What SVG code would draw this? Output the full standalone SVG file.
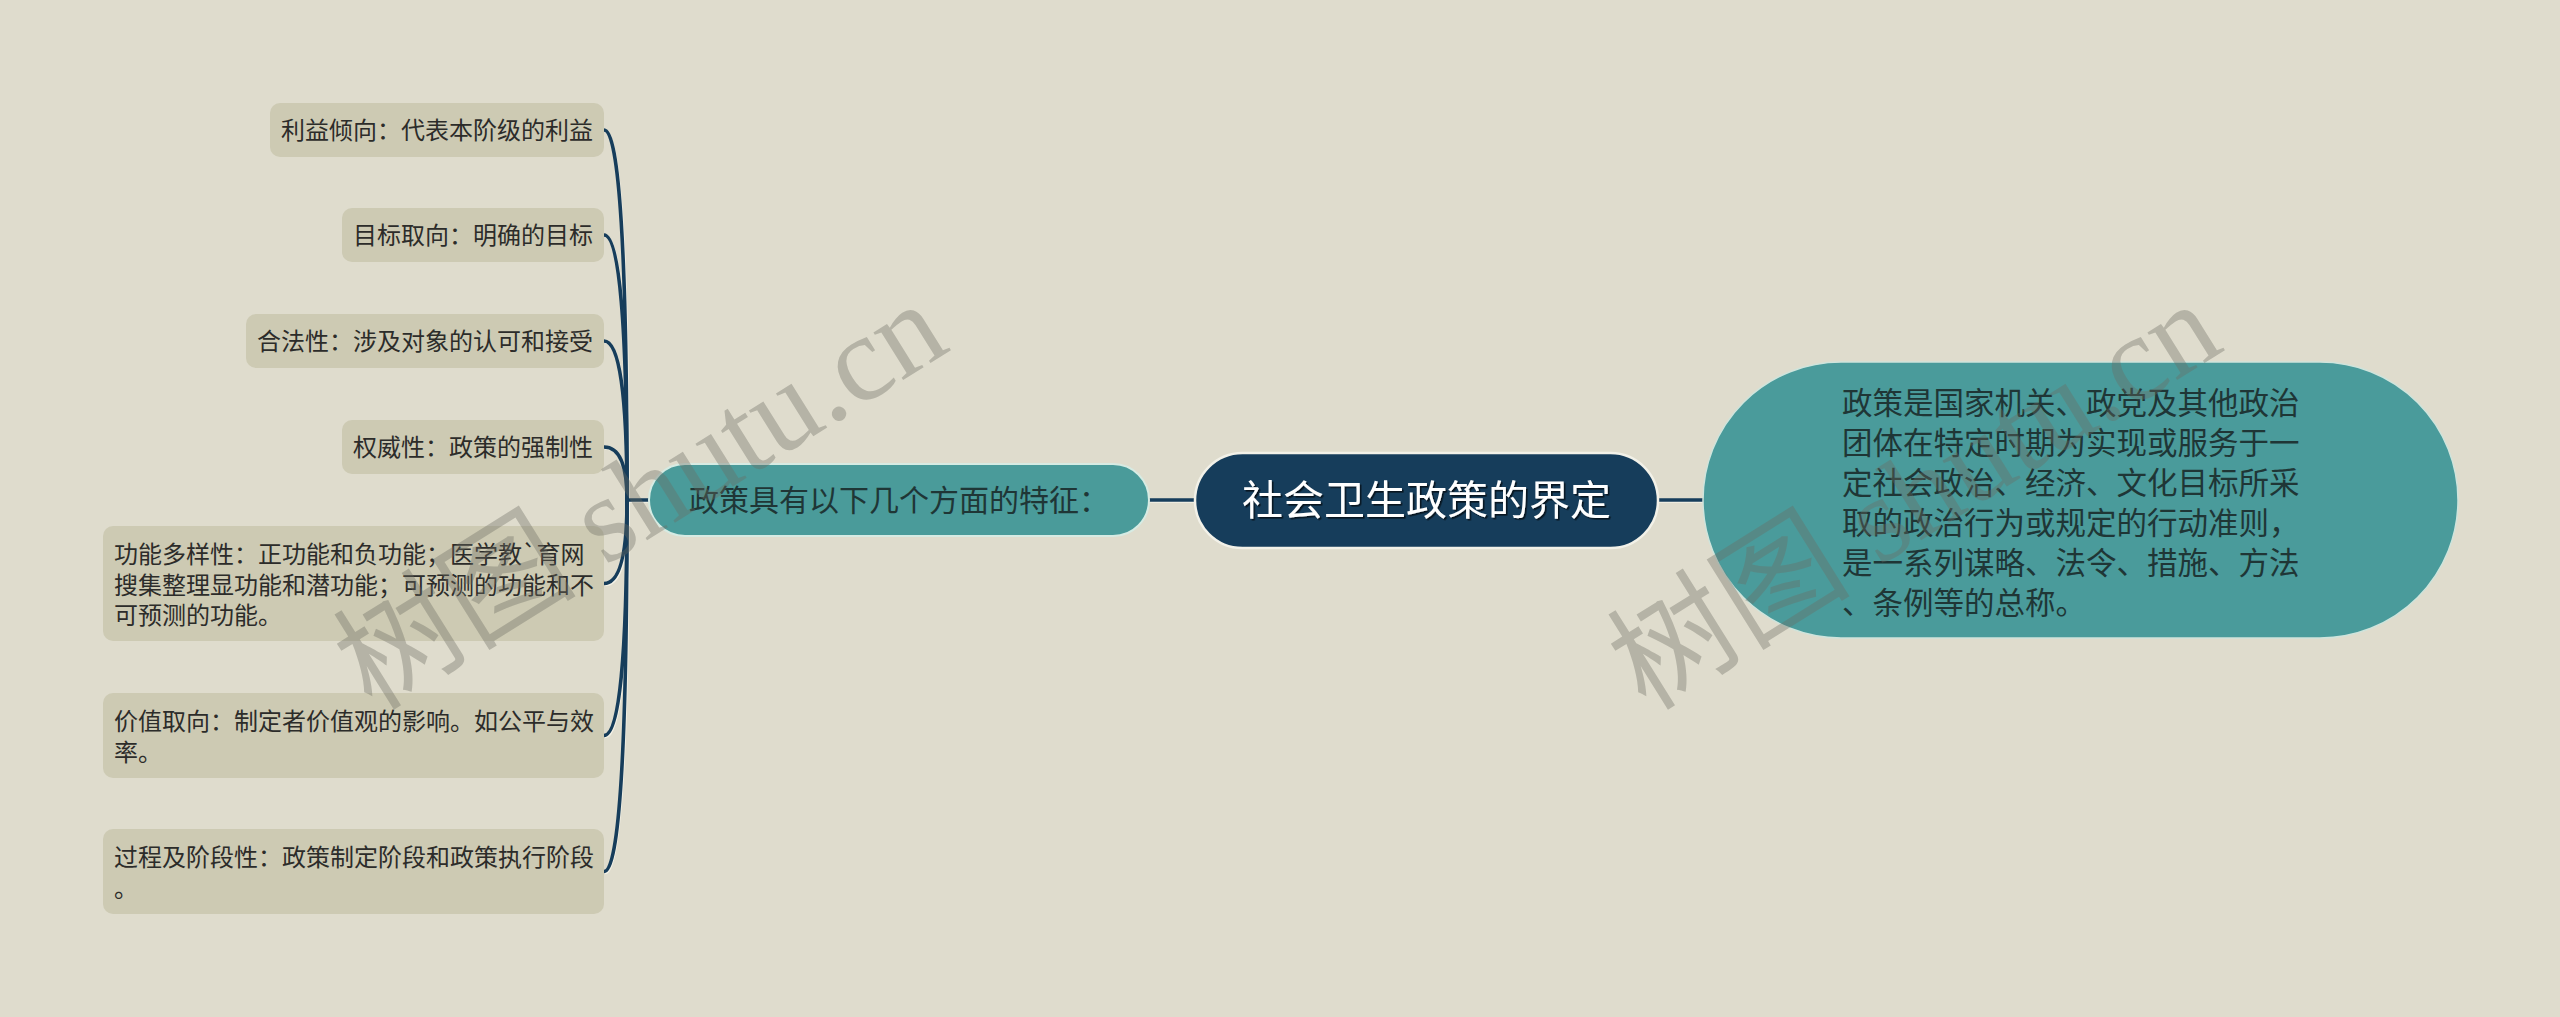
<svg xmlns="http://www.w3.org/2000/svg" xmlns:xlink="http://www.w3.org/1999/xlink" width="2560" height="1017" viewBox="0 0 2560 1017">
<defs>
<style>
.bg{fill:#dfdccd}
.leaf rect{fill:#cdcab3}
.leaf text{font-family:"Noto Sans CJK SC","Noto Sans",sans-serif;font-size:24px;fill:#2c2c2a}
.hi{fill:none;stroke:#f3f1e6;stroke-width:2.2;stroke-linecap:round}
.nv{fill:none;stroke:#163d5b;stroke-width:3.6;stroke-linecap:round}
.mid text{font-family:"Noto Sans CJK SC","Noto Sans",sans-serif;fill:#1f3636}
.wm{font-family:"Liberation Serif","Noto Sans CJK SC",serif;font-size:122px;fill:#6c6c62;opacity:0.36}
</style>
<filter id="sh" x="-5%" y="-20%" width="110%" height="140%"><feDropShadow dx="1.6" dy="1.6" stdDeviation="0.6" flood-color="#000" flood-opacity="0.65"/></filter>
<g id="cp">
<path d="M1149,500 H1195"/>
<path d="M1658,500 H1703"/>
<path d="M649,500 H627"/>
<path d="M627,500 Q627,130 604,130"/>
<path d="M627,500 Q627,235 604,235"/>
<path d="M627,500 Q627,341 604,341"/>
<path d="M627,500 Q627,447 604,447"/>
<path d="M627,500 Q627,583.5 604,583.5"/>
<path d="M627,500 Q627,735.5 604,735.5"/>
<path d="M627,500 Q627,871.5 604,871.5"/>
</g>
</defs>
<rect class="bg" x="0" y="0" width="2560" height="1017"/>

<g id="connectors">
<g class="hi" transform="translate(1.6,1.6)"><use xlink:href="#cp" href="#cp"/></g>
<g class="nv"><use xlink:href="#cp" href="#cp"/></g>
</g>

<g id="root">
<rect x="1195" y="453" width="463" height="95" rx="47.5" fill="#163d5b" stroke="#f2f1e8" stroke-width="2.5"/>
<text x="1426.5" y="515" text-anchor="middle" font-family="Noto Sans CJK SC, Noto Sans, sans-serif" font-size="41" fill="#ffffff" filter="url(#sh)">社会卫生政策的界定</text>
</g>

<g id="features" class="mid">
<rect x="649" y="464" width="500" height="72" rx="36" fill="#4a9b9a" stroke="#d6ebe3" stroke-width="2"/>
<text x="899" y="511" text-anchor="middle" font-size="30">政策具有以下几个方面的特征：</text>
</g>

<g id="definition" class="mid">
<rect x="1703" y="362" width="755" height="276" rx="138" fill="#4a9b9b" stroke="#cfe4dc" stroke-width="1.5"/>
<text font-size="30.5">
<tspan x="1842" y="414">政策是国家机关、政党及其他政治</tspan>
<tspan x="1842" y="454">团体在特定时期为实现或服务于一</tspan>
<tspan x="1842" y="494">定社会政治、经济、文化目标所采</tspan>
<tspan x="1842" y="534">取的政治行为或规定的行动准则，</tspan>
<tspan x="1842" y="574">是一系列谋略、法令、措施、方法</tspan>
<tspan x="1842" y="614">、条例等的总称。</tspan>
</text>
</g>

<g id="leaf1" class="leaf">
<rect x="270" y="103" width="334" height="54" rx="10"/>
<text x="281" y="139">利益倾向：代表本阶级的利益</text>
</g>
<g id="leaf2" class="leaf">
<rect x="342" y="208" width="262" height="54" rx="10"/>
<text x="353" y="244">目标取向：明确的目标</text>
</g>
<g id="leaf3" class="leaf">
<rect x="246" y="314" width="358" height="54" rx="10"/>
<text x="257" y="350">合法性：涉及对象的认可和接受</text>
</g>
<g id="leaf4" class="leaf">
<rect x="342" y="420" width="262" height="54" rx="10"/>
<text x="353" y="456">权威性：政策的强制性</text>
</g>
<g id="leaf5" class="leaf">
<rect x="103" y="526" width="501" height="115" rx="10"/>
<text><tspan x="114" y="563">功能多样性：正功能和负功能；医学教`育网</tspan><tspan x="114" y="593.5">搜集整理显功能和潜功能；可预测的功能和不</tspan><tspan x="114" y="624">可预测的功能。</tspan></text>
</g>
<g id="leaf6" class="leaf">
<rect x="103" y="693" width="501" height="85" rx="10"/>
<text><tspan x="114" y="730">价值取向：制定者价值观的影响。如公平与效</tspan><tspan x="114" y="760.5">率。</tspan></text>
</g>
<g id="leaf7" class="leaf">
<rect x="103" y="829" width="501" height="85" rx="10"/>
<text><tspan x="114" y="866">过程及阶段性：政策制定阶段和政策执行阶段</tspan><tspan x="114" y="896.5">。</tspan></text>
</g>

<g id="watermarks">
<text class="wm" transform="translate(372,712) rotate(-32)">树图 shutu.cn</text>
<text class="wm" transform="translate(1646,712) rotate(-32)">树图 shutu.cn</text>
</g>
</svg>
